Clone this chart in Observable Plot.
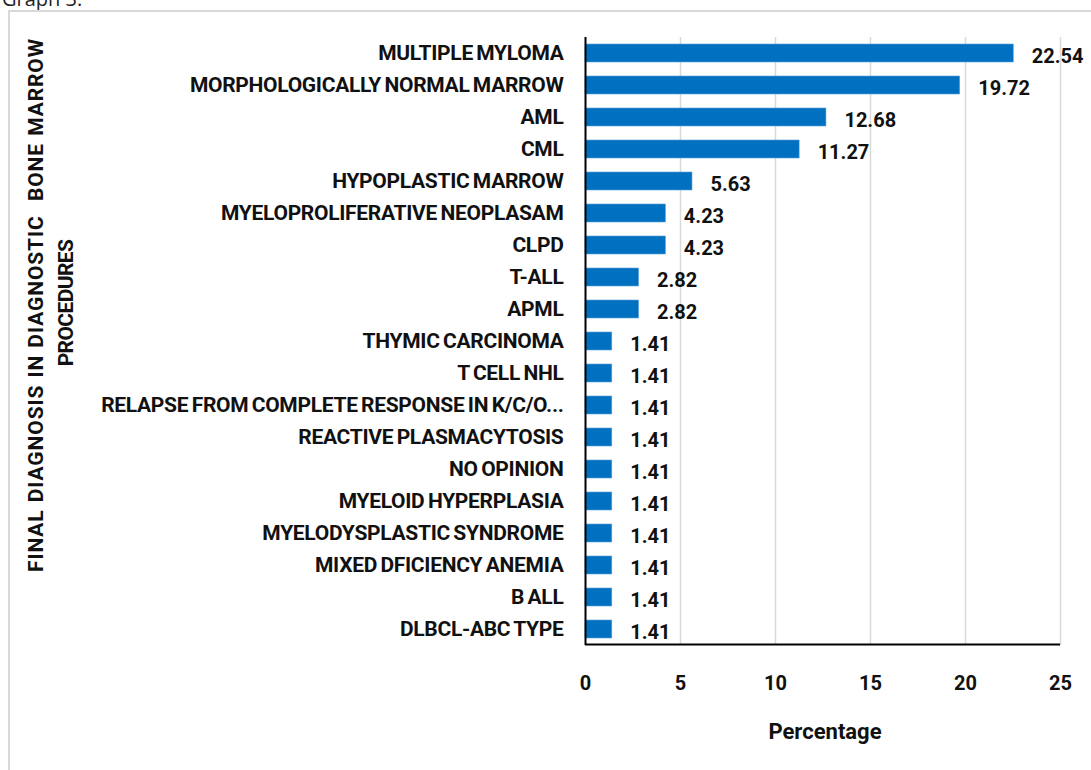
<!DOCTYPE html>
<html>
<head>
<meta charset="utf-8">
<script src="https://cdn.jsdelivr.net/npm/d3@7"></script>
<script src="https://cdn.jsdelivr.net/npm/@observablehq/plot@0.6"></script>
<style>
  html, body { margin: 0; padding: 0; background: #fff; overflow: hidden; }
  body { width: 1091px; height: 770px; position: relative; font-family: Roboto, "Liberation Sans", sans-serif; }
  #frame { position: absolute; left: 8px; top: 10px; width: 1100px; height: 800px; border: 2px solid #d9d9d9; box-sizing: border-box; }
  #top { position: absolute; left: 2px; top: -15px; font-size: 20px; color: #222; font-family: "Open Sans", sans-serif; }
  #chart { position: absolute; left: 0; top: 0; }
  #chart g[aria-label="y-axis tick label"] text { letter-spacing: -0.3px; word-spacing: -1.5px; }
  .yt { position: absolute; transform: translate(-50%, -50%) rotate(-90deg); white-space: nowrap; font-weight: bold; font-size: 21px; color: #111; }
  #yt1 { left: 36px; top: 305px; letter-spacing: 0.9px; word-spacing: 1px; }
  #yt2 { left: 66px; top: 303px; letter-spacing: -0.6px; }
  #xtitle { position: absolute; left: 825px; top: 731px; transform: translate(-50%, -50%); font-weight: bold; font-size: 22px; color: #111; }
</style>
</head>
<body>
<div id="top">Graph 3:</div>
<div id="frame"></div>
<div id="chart"></div>
<div class="yt" id="yt1">FINAL DIAGNOSIS IN DIAGNOSTIC&nbsp; BONE MARROW</div>
<div class="yt" id="yt2">PROCEDURES</div>
<div id="xtitle">Percentage</div>
<script>
const categories = [
  "MULTIPLE MYLOMA",
  "MORPHOLOGICALLY NORMAL MARROW",
  "AML",
  "CML",
  "HYPOPLASTIC MARROW",
  "MYELOPROLIFERATIVE NEOPLASAM",
  "CLPD",
  "T-ALL",
  "APML",
  "THYMIC CARCINOMA",
  "T CELL NHL",
  "RELAPSE FROM COMPLETE RESPONSE IN K/C/O...",
  "REACTIVE PLASMACYTOSIS",
  "NO OPINION",
  "MYELOID HYPERPLASIA",
  "MYELODYSPLASTIC SYNDROME",
  "MIXED DFICIENCY ANEMIA",
  "B ALL",
  "DLBCL-ABC TYPE"
];
const percentages = [22.54, 19.72, 12.68, 11.27, 5.63, 4.23, 4.23, 2.82, 2.82, 1.41, 1.41, 1.41, 1.41, 1.41, 1.41, 1.41, 1.41, 1.41, 1.41];
const xTicks = [0, 5, 10, 15, 20, 25];

const data = categories.map((c, i) => ({category: c, value: percentages[i]}));

const chart = Plot.plot({
  width: 1091,
  height: 770,
  marginLeft: 585,
  marginRight: 31,
  marginTop: 37,
  marginBottom: 125,
  style: {fontFamily: "Roboto, 'Liberation Sans', sans-serif", fontWeight: "bold", color: "#111", background: "transparent"},
  x: {domain: [0, 25], ticks: xTicks},
  y: {domain: categories, padding: 0},
  marks: [
    Plot.gridX(xTicks.slice(1), {stroke: "#d9d9d9", strokeOpacity: 1, strokeWidth: 1.5}),
    Plot.barX(data, {x: "value", y: "category", fill: "#0070C0", stroke: "#5aa0d8", strokeWidth: 0.6, insetTop: 7, insetBottom: 7}),
    Plot.text(data, {x: "value", y: "category", text: d => d.value.toFixed(2), textAnchor: "start", dx: 18, dy: 3, fontSize: 20, fontWeight: "bold", fill: "#111"}),
    Plot.ruleX([0], {stroke: "#000", strokeWidth: 2}),
    Plot.ruleY([categories[categories.length - 1]], {x1: 0, x2: 25, dy: 15, stroke: "#000", strokeWidth: 2}),
    Plot.axisY({tickSize: 0, tickPadding: 22, fontSize: 21, fontWeight: "bold", label: null}),
    Plot.axisX(xTicks, {tickSize: 0, tickPadding: 30, fontSize: 20, fontWeight: "bold", label: null})
  ]
});
document.getElementById("chart").appendChild(chart);
</script>
</body>
</html>
